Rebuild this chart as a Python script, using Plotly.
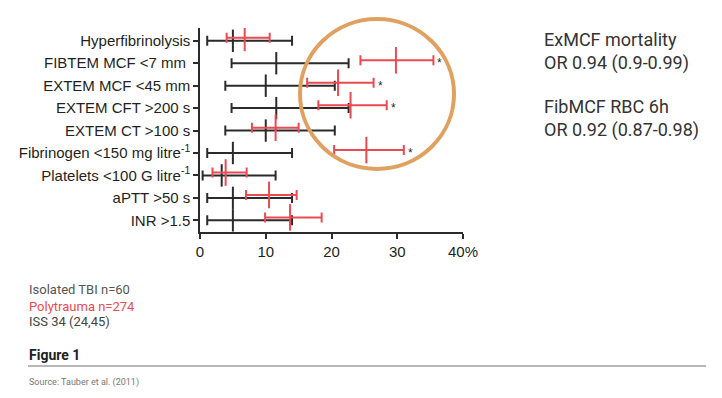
import plotly.graph_objects as go

# ---------------- data ----------------
labels = [
    "Hyperfibrinolysis",
    "FIBTEM MCF &lt;7 mm\u00a0",
    "EXTEM MCF &lt;45 mm",
    "EXTEM CFT &gt;200 s",
    "EXTEM CT &gt;100 s",
    "Fibrinogen &lt;150 mg litre<sup>-1</sup>",
    "Platelets &lt;100 G litre<sup>-1</sup>",
    "aPTT &gt;50 s",
    "INR &gt;1.5",
]
# Isolated TBI (black): median, lower, upper (%)
tbi_mid = [5.0, 11.6, 10.0, 11.6, 10.0, 5.0, 3.3, 5.0, 5.0]
tbi_lo = [1.1, 4.8, 3.85, 4.8, 3.85, 1.1, 0.4, 1.1, 1.1]
tbi_hi = [14.0, 22.6, 20.5, 22.6, 20.5, 14.0, 11.5, 14.0, 14.0]
# Polytrauma (red)
poly_mid = [6.8, 29.8, 21.0, 22.9, 11.5, 25.3, 3.9, 10.5, 13.7]
poly_lo = [4.05, 24.4, 16.3, 18.0, 7.9, 20.4, 1.9, 7.0, 9.9]
poly_hi = [10.6, 35.5, 26.4, 28.4, 15.0, 31.0, 7.1, 14.7, 18.5]
significant = [False, True, True, True, False, True, False, False, False]

x_tickvals = [0, 10, 20, 30, 40]
x_ticktext = ["0", "10", "20", "30", "40%"]

BLACK = "#2b2b2b"
RED = "#ec4a52"
ORANGE = "#e0a160"

n = len(labels)
rows = [n - 1 - i for i in range(n)]
red_off = 0.13
rows_red = [r + red_off for r in rows]

# page offset (browser body margin) and plot-area geometry in page pixels
OFF = 8
W, H = 722 - OFF, 398 - OFF
PL, PR, PT, PB = 200, 463, 28, 232
L, R, T, B = PL - OFF, PR - OFF, PT - OFF, PB - OFF


def px(xp):
    return (xp - PL) / (PR - PL)


def py(yp):
    return (PB - yp) / (PB - PT)


fig = go.Figure()

fig.add_trace(go.Scatter(
    x=tbi_mid, y=rows, mode="markers",
    marker=dict(symbol="line-ns", size=16, line=dict(color=BLACK, width=2), color=BLACK),
    error_x=dict(type="data", symmetric=False,
                 array=[h - m for h, m in zip(tbi_hi, tbi_mid)],
                 arrayminus=[m - l for m, l in zip(tbi_mid, tbi_lo)],
                 color=BLACK, thickness=2, width=5),
    showlegend=False, hoverinfo="skip",
))
fig.add_trace(go.Scatter(
    x=poly_mid, y=rows_red, mode="markers",
    marker=dict(symbol="line-ns", size=19, line=dict(color=RED, width=2), color=RED),
    error_x=dict(type="data", symmetric=False,
                 array=[h - m for h, m in zip(poly_hi, poly_mid)],
                 arrayminus=[m - l for m, l in zip(poly_mid, poly_lo)],
                 color=RED, thickness=2, width=5),
    showlegend=False, hoverinfo="skip",
))

annotations = []
for hi, yr, sig in zip(poly_hi, rows_red, significant):
    if sig:
        annotations.append(dict(x=hi, y=yr, xref="x", yref="y", text="*", showarrow=False,
                                xanchor="left", yanchor="middle", xshift=2, yshift=-3,
                                font=dict(family="Liberation Sans, Arial", size=12, color=BLACK)))

side_font = dict(family="Roboto", size=18, color="#333333")
annotations.append(dict(x=px(542), y=py(51.5), xref="paper", yref="paper",
                        text="ExMCF mortality<br>OR 0.94 (0.9-0.99)", showarrow=False,
                        xanchor="left", yanchor="middle", align="left", font=side_font))
annotations.append(dict(x=px(542), y=py(118.5), xref="paper", yref="paper",
                        text="FibMCF RBC 6h<br>OR 0.92 (0.87-0.98)", showarrow=False,
                        xanchor="left", yanchor="middle", align="left", font=side_font))

foot = [
    ("Isolated TBI n=60", 289.5, "#555555"),
    ("Polytrauma n=274", 306, RED),
    ("ISS 34 (24,45)", 321, "#444444"),
]
for txt, yy, col in foot:
    annotations.append(dict(x=px(27), y=py(yy), xref="paper", yref="paper", text=txt,
                            showarrow=False, xanchor="left", yanchor="middle",
                            font=dict(family="Roboto", size=13, color=col)))
annotations.append(dict(x=px(27), y=py(355), xref="paper", yref="paper", text="<b>Figure 1</b>",
                        showarrow=False, xanchor="left", yanchor="middle",
                        font=dict(family="Roboto", size=14, color="#222222")))
annotations.append(dict(x=px(27), y=py(382), xref="paper", yref="paper",
                        text="Source: Tauber et al. (2011)",
                        showarrow=False, xanchor="left", yanchor="middle",
                        font=dict(family="Roboto", size=9, color="#777777")))

shapes = [
    dict(type="circle", xref="paper", yref="paper",
         x0=px(300), x1=px(454), y0=py(169), y1=py(19),
         line=dict(color=ORANGE, width=4)),
    dict(type="line", xref="paper", yref="paper",
         x0=px(28), x1=px(706), y0=py(366), y1=py(366),
         line=dict(color="#a0a0a0", width=1.5)),
]

fig.update_layout(
    width=W, height=H, autosize=False,
    margin=dict(l=L, r=W - R, t=T, b=H - B, pad=0),
    paper_bgcolor="white", plot_bgcolor="white",
    xaxis=dict(range=[0, 40], tickvals=x_tickvals, ticktext=x_ticktext,
               showgrid=False, zeroline=False, showline=True, linecolor=BLACK, linewidth=1.5,
               ticks="outside", ticklen=5, tickwidth=1.5, tickcolor=BLACK,
               tickfont=dict(family="Liberation Sans, Arial", size=15, color="#231f20"),
               fixedrange=True),
    yaxis=dict(range=[-0.52, 8.57], tickvals=rows, ticktext=labels,
               showgrid=False, zeroline=False, showline=True, linecolor=BLACK, linewidth=1.5,
               ticks="outside", ticklen=5, tickwidth=1.5, tickcolor=BLACK,
               tickfont=dict(family="Liberation Sans, Arial", size=15, color="#231f20"),
               fixedrange=True),
    annotations=annotations,
    shapes=shapes,
)

fig.write_html("out.html")
